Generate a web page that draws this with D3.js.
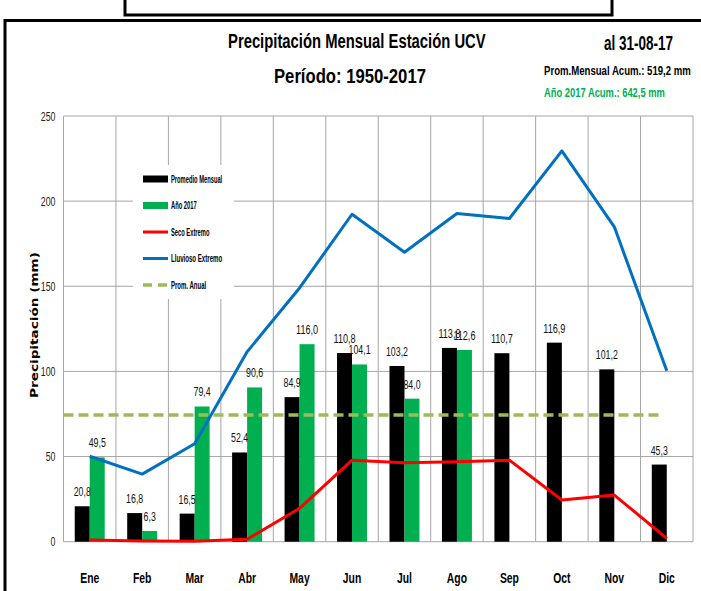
<!DOCTYPE html>
<html>
<head>
<meta charset="utf-8">
<script src="https://cdn.jsdelivr.net/npm/d3@7"></script>
<style>
  body { margin: 0; background: #fff; }
  svg { display: block; }
</style>
</head>
<body>
<script>
// data
const months = ["Ene", "Feb", "Mar", "Abr", "May", "Jun", "Jul", "Ago", "Sep", "Oct", "Nov", "Dic"];
const promMensual = [20.8, 16.8, 16.5, 52.4, 84.9, 110.8, 103.2, 113.8, 110.7, 116.9, 101.2, 45.3];
const anio2017 = [49.5, 6.3, 79.4, 90.6, 116.0, 104.1, 84.0, 112.6, null, null, null, null];
const secoExtremo = [1.0, 0.4, 0.3, 1.4, 19.6, 47.9, 46.4, 47.0, 47.9, 24.5, 27.4, 2.0];
const lluviosoExtremo = [50.2, 39.7, 57.5, 111.5, 149.0, 192.3, 170.0, 192.7, 189.8, 229.5, 184.9, 100.4];
const promAnual = 74.4;
const yTicks = [0, 50, 100, 150, 200, 250];
const legendLabels = ["Promedio Mensual", "Año 2017", "Seco Extremo", "Lluvioso Extremo", "Prom. Anual"];

const W = 701, H = 591;
const margin = {top: 116, left: 63.5, right: 8, bottom: 49.3};
const innerW = W - margin.left - margin.right;
const innerH = H - margin.top - margin.bottom;

const NARROW = "'Liberation Sans Narrow', 'Arial Narrow', 'Liberation Sans', sans-serif";
const green = "#00B050", red = "#FF0000", blue = "#0070C0", dashGreen = "#9BBB59", grid = "#A6A6A6";

const fmt = v => d3.format(".1f")(v).replace(".", ",");
// width of a number label in the squashed reference font
const numWidth = (s, dw) => s.split("").reduce((a, c) => a + (c === "," ? dw * 0.5 : dw), 0);

function fitTo(sel, w) {
  sel.attr("textLength", w).attr("lengthAdjust", "spacingAndGlyphs");
}
function squeeze(sel, k) {
  sel.each(function() {
    const w = this.getComputedTextLength();
    d3.select(this).attr("textLength", w * k).attr("lengthAdjust", "spacingAndGlyphs");
  });
}
// squash a start-anchored text horizontally so it spans w pixels
function squash(sel, x, yy, w) {
  const w0 = sel.node().getComputedTextLength();
  sel.attr("transform", `translate(${x},${yy}) scale(${w / w0},1)`);
}

const svg = d3.select("body").append("svg")
  .attr("width", W)
  .attr("height", H)
  .attr("viewBox", [0, 0, W, H]);

// frame pieces
svg.append("path")
  .attr("d", "M125,0V15H612V0")
  .attr("fill", "none").attr("stroke", "#000").attr("stroke-width", 3);
svg.append("path")
  .attr("d", "M5," + (H + 5) + "V20.5H" + (W + 5))
  .attr("fill", "none").attr("stroke", "#000").attr("stroke-width", 3);

// titles
const titles = svg.append("g").attr("font-family", NARROW).attr("font-weight", "bold");
titles.append("text").attr("font-size", 21)
  .text("Precipitación Mensual Estación UCV").call(squash, 228, 48, 258);
titles.append("text").attr("font-size", 21)
  .text("Período: 1950-2017").call(squash, 274, 83, 152);
titles.append("text").attr("font-size", 20)
  .text("al 31-08-17").call(squash, 604, 50, 69);
titles.append("text").attr("font-size", 13.5)
  .text("Prom.Mensual  Acum.: 519,2 mm").call(squash, 544, 75, 147);
titles.append("text").attr("font-size", 13.5).attr("fill", green)
  .text("Año 2017 Acum.: 642,5 mm").call(squash, 544, 97, 121);

const g = svg.append("g").attr("transform", `translate(${margin.left},${margin.top})`);

// scales
const x0 = d3.scaleBand().domain(months).range([0, innerW]).paddingInner(0.4286).paddingOuter(0.2143);
const xc = d3.scaleBand().domain(months).range([0, innerW]);
const x1 = d3.scaleBand().domain(["prom", "anio"]).range([0, x0.bandwidth()]);
const y = d3.scaleLinear().domain([0, 250]).range([innerH, 0]);
const cx = m => xc(m) + xc.bandwidth() / 2;

// gridlines
g.append("g").selectAll("line").data(yTicks).join("line")
  .attr("x1", 0).attr("x2", innerW)
  .attr("y1", d => y(d)).attr("y2", d => y(d))
  .attr("stroke", grid).attr("stroke-width", 1);
g.append("g").selectAll("line").data(months).join("line")
  .attr("x1", d => xc(d) + xc.bandwidth()).attr("x2", d => xc(d) + xc.bandwidth())
  .attr("y1", 0).attr("y2", innerH)
  .attr("stroke", grid).attr("stroke-width", 1);
g.append("line").attr("x1", 0).attr("x2", 0).attr("y1", 0).attr("y2", innerH)
  .attr("stroke", grid).attr("stroke-width", 1);

// y axis labels
const yl = g.append("g").attr("font-family", NARROW).attr("font-size", 13).attr("fill", "#222");
yl.selectAll("text").data(yTicks).join("text")
  .attr("x", -8).attr("y", d => y(d)).attr("dy", "0.35em").attr("text-anchor", "end")
  .text(d => d)
  .each(function(d) { d3.select(this).call(fitTo, numWidth(String(d), 4.9)); });

svg.append("text")
  .attr("transform", "translate(38,325) rotate(-90)")
  .attr("text-anchor", "middle")
  .attr("font-family", "'DejaVu Sans', Verdana, sans-serif")
  .attr("font-weight", "bold").attr("font-size", 11)
  .text("Precipitación (mm)").call(fitTo, 146);

// x axis labels
g.append("g").selectAll("text").data(months).join("text")
  .attr("x", d => cx(d)).attr("y", innerH + 41.5)
  .attr("text-anchor", "middle")
  .attr("font-family", NARROW).attr("font-weight", "bold").attr("font-size", 14)
  .text(d => d)
  .call(squeeze, 0.74);

// bars
const rows = months.map((m, i) => ({m, prom: promMensual[i], anio: anio2017[i]}));
const barG = g.append("g");
barG.selectAll("rect.prom").data(rows).join("rect").attr("class", "prom")
  .attr("x", d => x0(d.m) + x1("prom")).attr("width", x1.bandwidth())
  .attr("y", d => y(d.prom)).attr("height", d => innerH - y(d.prom))
  .attr("fill", "#000");
barG.selectAll("rect.anio").data(rows.filter(d => d.anio != null)).join("rect").attr("class", "anio")
  .attr("x", d => x0(d.m) + x1("anio")).attr("width", x1.bandwidth())
  .attr("y", d => y(d.anio)).attr("height", d => innerH - y(d.anio))
  .attr("fill", green);

// lines
const line = d3.line().x(d => cx(d.m)).y(d => y(d.v));
g.append("path")
  .datum([{m: months[0], v: promAnual}, {m: months[11], v: promAnual}])
  .attr("d", d3.line().x((d, i) => i === 0 ? 0 : cx(d.m) - 5).y(d => y(d.v)))
  .attr("fill", "none").attr("stroke", dashGreen).attr("stroke-width", 3.5)
  .attr("stroke-dasharray", "10 5");
g.append("path")
  .datum(months.map((m, i) => ({m, v: secoExtremo[i]})))
  .attr("d", line)
  .attr("fill", "none").attr("stroke", red).attr("stroke-width", 3).attr("stroke-linejoin", "round");
g.append("path")
  .datum(months.map((m, i) => ({m, v: lluviosoExtremo[i]})))
  .attr("d", line)
  .attr("fill", "none").attr("stroke", blue).attr("stroke-width", 3).attr("stroke-linejoin", "round");

// data labels
const lab = g.append("g").attr("font-family", NARROW).attr("font-size", 13).attr("fill", "#111")
  .attr("text-anchor", "middle");
lab.selectAll("text.prom").data(rows).join("text").attr("class", "prom")
  .attr("x", d => x0(d.m) + x1("prom") + x1.bandwidth() / 2)
  .attr("y", d => y(d.prom) - 10)
  .text(d => fmt(d.prom))
  .each(function(d) { d3.select(this).call(fitTo, numWidth(fmt(d.prom), 4.9)); });
lab.selectAll("text.anio").data(rows.filter(d => d.anio != null)).join("text").attr("class", "anio")
  .attr("x", d => x0(d.m) + x1("anio") + x1.bandwidth() / 2)
  .attr("y", d => y(d.anio) - 10)
  .text(d => fmt(d.anio))
  .each(function(d) { d3.select(this).call(fitTo, numWidth(fmt(d.anio), 4.9)); });

// legend
const leg = svg.append("g").attr("transform", "translate(133,165)");
leg.append("rect").attr("width", 101).attr("height", 134).attr("fill", "#fff");
const legY = d3.scalePoint().domain(legendLabels).range([14, 120]);
const items = leg.selectAll("g").data(legendLabels).join("g")
  .attr("transform", d => `translate(10,${legY(d)})`);
items.each(function(d, i) {
  const it = d3.select(this);
  if (i < 2) {
    it.append("rect").attr("x", 0).attr("y", -3.5).attr("width", 25).attr("height", 7)
      .attr("fill", i === 0 ? "#000" : green);
  } else {
    it.append("line").attr("x1", 0).attr("x2", 25)
      .attr("stroke", [red, blue, dashGreen][i - 2])
      .attr("stroke-width", i === 4 ? 3.5 : 3)
      .attr("stroke-dasharray", i === 4 ? "9 6" : null);
  }
  it.append("text").attr("x", 28).attr("dy", "0.35em")
    .attr("font-family", NARROW).attr("font-weight", "bold").attr("font-size", 10)
    .text(d).call(fitTo, d.length * 3.2);
});
</script>
</body>
</html>
